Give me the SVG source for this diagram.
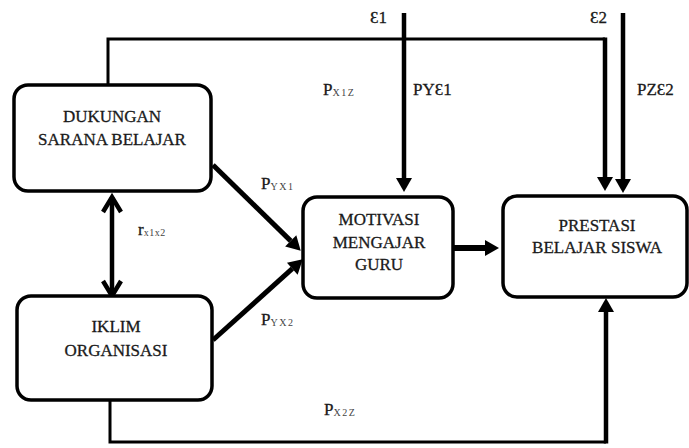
<svg xmlns="http://www.w3.org/2000/svg" width="689" height="448" viewBox="0 0 689 448">
<style>
.box{fill:#fff;stroke:#000;stroke-width:3.5}
.lbl{font-family:'Liberation Serif','Times New Roman',serif;font-size:17px;fill:#1a1a1a;stroke:#1a1a1a;stroke-width:0.3;text-anchor:middle}
.t{font-family:'Liberation Serif','Times New Roman',serif;font-size:17px;fill:#1a1a1a;stroke:#1a1a1a;stroke-width:0.3}
.sub{font-size:10px;fill:#444;stroke:none;letter-spacing:1.5px}
.c{fill:none;stroke:#000}
</style>
<defs>
<marker id="ah" markerUnits="userSpaceOnUse" markerWidth="14" markerHeight="16" refX="0" refY="8" orient="auto" overflow="visible">
<path d="M0,0 L14,8 L0,16 z" fill="#000"/>
</marker>
</defs>
<g id="connectors">
<path class="c" d="M108,84 V39 H605" stroke-width="3"/>
<path class="c" d="M605,37.5 V177" stroke-width="4.5" marker-end="url(#ah)"/>
<path class="c" d="M404,13 V178" stroke-width="4.5" marker-end="url(#ah)"/>
<path class="c" d="M623,13 V179" stroke-width="4.5" marker-end="url(#ah)"/>
<path class="c" d="M213,165 L290.7,240.9" stroke-width="5" marker-end="url(#ah)"/>
<path class="c" d="M213,340 L292.3,268.7" stroke-width="5" marker-end="url(#ah)"/>
<path class="c" d="M112,197 V296" stroke-width="4.5"/>
<path class="c" d="M103,212 L112,197 L121,212" stroke-width="4.5" stroke-linejoin="miter"/>
<path class="c" d="M103,281 L112,296 L121,281" stroke-width="4.5" stroke-linejoin="miter"/>
<path class="c" d="M453,248 H485" stroke-width="6" marker-end="url(#ah)"/>
<path class="c" d="M110,400 V442 H606" stroke-width="3"/>
<path class="c" d="M606,443.5 V312" stroke-width="4.5" marker-end="url(#ah)"/>
</g>
<g id="node-dukungan">
<rect class="box" x="14" y="85" width="197" height="106" rx="14"/>
<text class="lbl" x="112" y="122">DUKUNGAN</text>
<text class="lbl" x="112" y="145">SARANA BELAJAR</text>
</g>
<g id="node-iklim">
<rect class="box" x="17" y="296" width="195" height="104" rx="14"/>
<text class="lbl" x="116" y="332">IKLIM</text>
<text class="lbl" x="116" y="356">ORGANISASI</text>
</g>
<g id="node-motivasi">
<rect class="box" x="303" y="197" width="150" height="101" rx="14"/>
<text class="lbl" x="379" y="225">MOTIVASI</text>
<text class="lbl" x="379" y="248">MENGAJAR</text>
<text class="lbl" x="379" y="270">GURU</text>
</g>
<g id="node-prestasi">
<rect class="box" x="503" y="196" width="184" height="101" rx="14"/>
<text class="lbl" x="597" y="231">PRESTASI</text>
<text class="lbl" x="597" y="253">BELAJAR SISWA</text>
</g>
<g id="labels">
<text class="t" x="370" y="23">Ɛ1</text>
<text class="t" x="590" y="23">Ɛ2</text>
<text class="t" x="413" y="95">PYƐ1</text>
<text class="t" x="637" y="95">PZƐ2</text>
<text class="t" x="323" y="95">P<tspan class="sub" dy="1">X1Z</tspan></text>
<text class="t" x="261" y="189">P<tspan class="sub" dy="1">YX1</tspan></text>
<text class="t" x="261" y="325">P<tspan class="sub" dy="1">YX2</tspan></text>
<text class="t" x="324" y="415">P<tspan class="sub" dy="1">X2Z</tspan></text>
<text class="t" x="138" y="235">r<tspan class="sub" dy="1" style="letter-spacing:0.5px">x1x2</tspan></text>
</g>
</svg>
